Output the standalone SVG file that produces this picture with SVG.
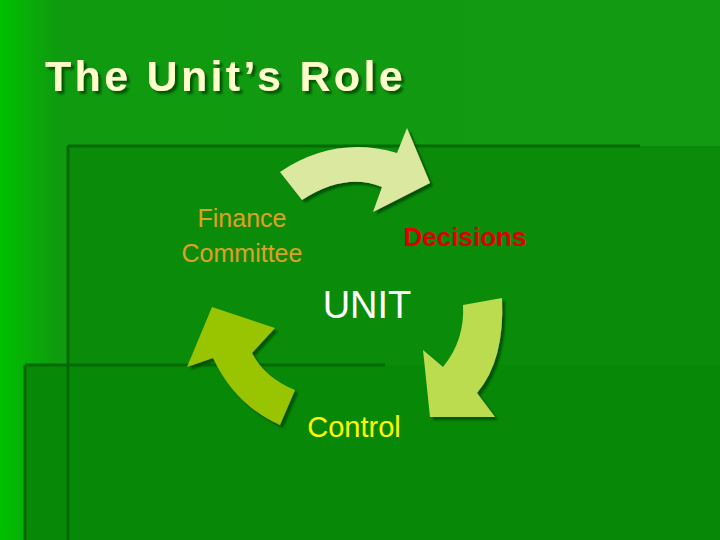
<svg xmlns="http://www.w3.org/2000/svg" width="720" height="540" viewBox="0 0 720 540">
<defs>
<linearGradient id="bg" x1="0" y1="0" x2="1" y2="0">
<stop offset="0" stop-color="#00c000"/><stop offset="0.08" stop-color="#109a10"/><stop offset="1" stop-color="#139a13"/>
</linearGradient>
<filter id="sh" x="-20%" y="-20%" width="140%" height="140%"><feDropShadow dx="3" dy="3" stdDeviation="1" flood-color="#005000" flood-opacity="0.9"/></filter>
</defs>
<style>
text{font-family:"Liberation Sans",Arial,sans-serif}
.ln{stroke:#006a00;stroke-width:3;fill:none}
</style>
<rect width="720" height="540" fill="url(#bg)"/>
<rect x="68" y="146" width="652" height="394" fill="#0a8c0a"/>
<rect x="25" y="365" width="695" height="175" fill="#078807"/>
<g id="lines">
<path class="ln" d="M68,146 H640 M68,146 V540 M25,365 H385 M25,365 V540"/>
</g>
<text x="45" y="91" font-size="43" font-weight="bold" letter-spacing="3.3" fill="#ffffcc" style="filter:url(#sh)">The Unit’s Role</text>
<g id="connectors" filter="url(#sh)">
<path d="M280,172 Q335,135 397,153 L407,128 L430,183 L373,212 L382,187 Q345,172 302,200 Z" fill="#dbe8a0"/>
<path d="M463,305 L502,298 Q505,360 477,393 L495,417 L430,417 L423,350 L443,367 Q465,340 463,305 Z" fill="#bcdc50"/>
<path d="M187,367 L212,307 L275,328 L252,353 Q265,378 295,390 L280,425 Q235,405 213,358 Z" fill="#99c400"/>
</g>
<g id="finance"><text x="242" y="227" font-size="25" fill="#e0a020" text-anchor="middle">Finance</text><text x="242" y="262" font-size="25" fill="#e0a020" text-anchor="middle">Committee</text></g>
<g id="decisions"><text x="465" y="246" font-size="26" font-weight="bold" fill="#dd0000" text-anchor="middle">Decisions</text></g>
<g id="unit"><text x="367" y="318" font-size="38" fill="#ffffff" text-anchor="middle">UNIT</text></g>
<g id="control"><text x="354" y="437" font-size="29" fill="#ffff00" text-anchor="middle">Control</text></g>
</svg>
